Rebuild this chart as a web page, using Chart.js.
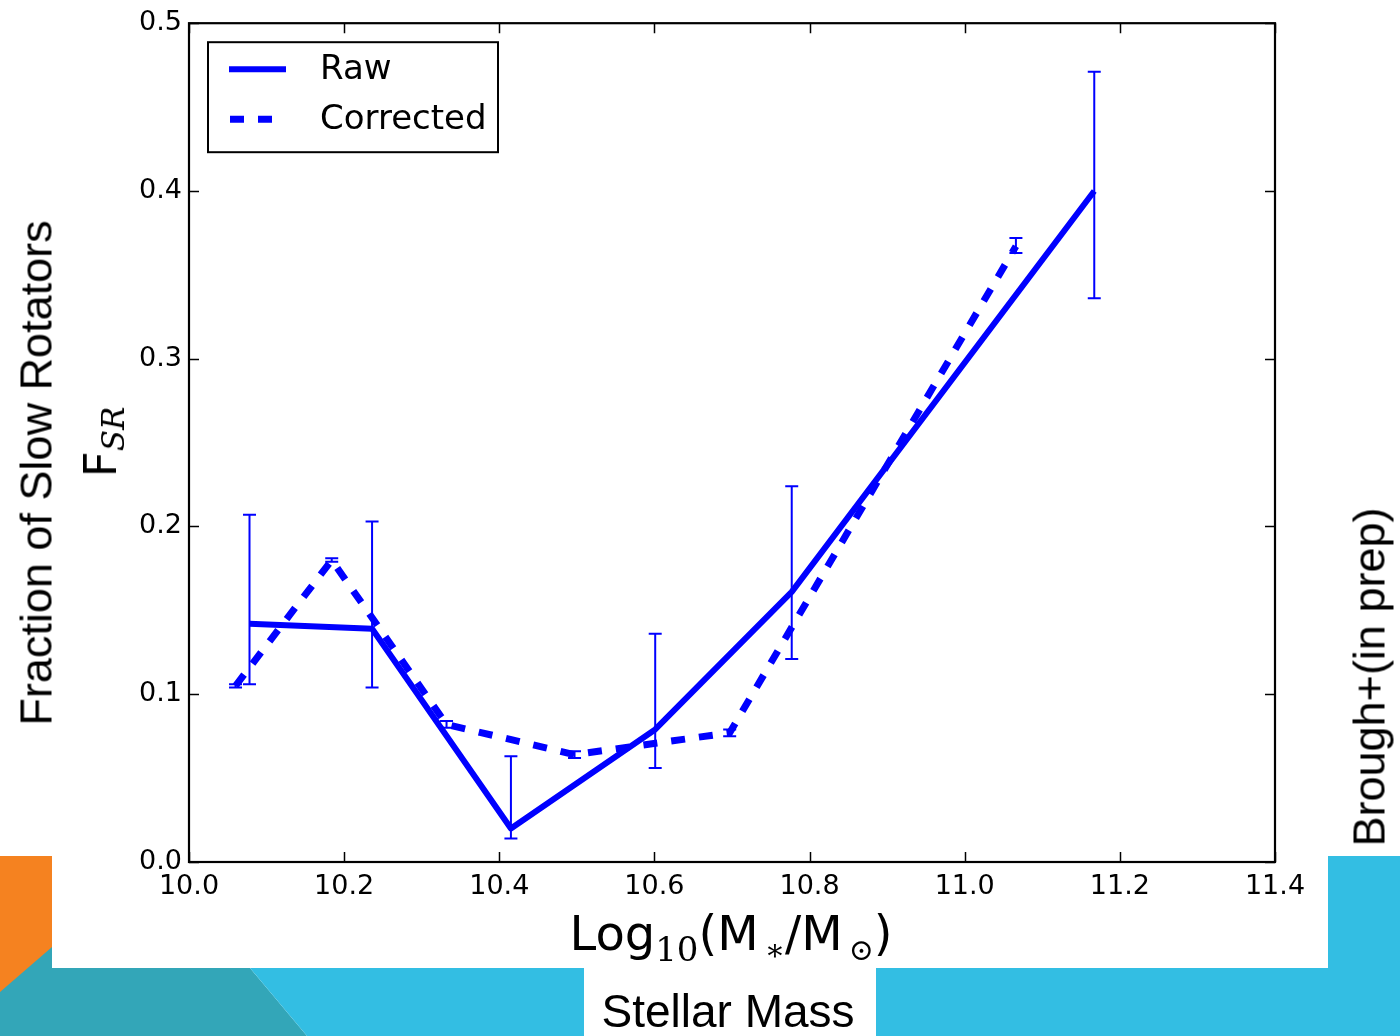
<!DOCTYPE html>
<html><head><meta charset="utf-8">
<script src="https://cdn.jsdelivr.net/npm/chart.js@4.4.0/dist/chart.umd.min.js"></script>
<style>
html,body{margin:0;padding:0;background:#fff;}
#wrap{position:relative;width:1400px;height:1036px;overflow:hidden;background:#fff;}
#bg,#c{position:absolute;left:0;top:0;}
.t{position:absolute;white-space:nowrap;color:#000;}
.rot{transform:translate(-50%,-50%) rotate(-90deg);}
.sub{font-family:"DejaVu Serif";position:relative;}
</style></head><body>
<div id="wrap">
<svg id="bg" width="1400" height="1036">
 <rect x="0" y="856" width="52" height="180" fill="#F58220"/>
 <polygon points="0,992 52,947 52,968 250,968 307,1036 0,1036" fill="#33A6B8"/>
 <polygon points="250,968 584,968 584,1036 307,1036" fill="#33BEE3"/>
 <polygon points="876,968 1328,968 1328,856 1400,856 1400,1036 876,1036" fill="#33BEE3"/>
</svg>
<canvas id="c" width="1400" height="1036"></canvas>
<div class="t rot" style="left:36px;top:473px;font:45px/45px 'Liberation Sans';">Fraction of Slow Rotators</div>
<div class="t rot" style="left:103px;top:442px;font:45px/45px 'DejaVu Sans';">F<span class="sub" style="font-size:31px;font-style:italic;top:8px;">SR</span></div>
<div class="t" style="left:731px;top:909px;transform:translateX(-50%);font:48px/48px 'DejaVu Sans';">Log<span class="sub" style="font-size:34px;top:11px;">10</span>(M<span class="sub" style="font-size:30px;top:10px;margin-left:6px;">∗</span>/M<span class="sub" style="font-size:30px;top:10px;margin-left:6px;">⊙</span>)</div>
<div class="t" style="left:728px;top:988px;transform:translateX(-50%);font:46px/46px 'Liberation Sans';">Stellar Mass</div>
<div class="t rot" style="left:1369px;top:677px;font:45px/45px 'Liberation Sans';">Brough+(in prep)</div>
</div>
<script>
// ---- data ----
const rawX      = [10.078, 10.236, 10.415, 10.601, 10.777, 11.167];
const rawY      = [0.142, 0.139, 0.020, 0.079, 0.161, 0.400];
const rawErrLo  = [0.106, 0.104, 0.014, 0.056, 0.121, 0.336];
const rawErrHi  = [0.207, 0.203, 0.063, 0.136, 0.224, 0.471];

const corrX     = [10.060, 10.184, 10.332, 10.497, 10.697, 11.066];
const corrY     = [0.105, 0.180, 0.082, 0.064, 0.077, 0.367];
const corrErrLo = [0.104, 0.179, 0.080, 0.062, 0.075, 0.363];
const corrErrHi = [0.106, 0.181, 0.084, 0.066, 0.079, 0.372];

const seriesLabels = ['Raw', 'Corrected'];
const xTicks = [10.0, 10.2, 10.4, 10.6, 10.8, 11.0, 11.2, 11.4];
const xTickLabels = ['10.0','10.2','10.4','10.6','10.8','11.0','11.2','11.4'];
const yTicks = [0.0, 0.1, 0.2, 0.3, 0.4, 0.5];
const yTickLabels = ['0.0','0.1','0.2','0.3','0.4','0.5'];

const pts = (xs, ys) => xs.map((x, i) => ({x, y: ys[i]}));

const frameTicks = {
  id: 'frameTicks',
  afterDatasetsDraw(chart) {
    const {ctx, chartArea: a, scales: {x, y}} = chart;
    ctx.save();
    ctx.strokeStyle = '#000';
    ctx.lineWidth = 1.5;
    ctx.beginPath();
    x.ticks.forEach(t => {
      const px = Math.round(x.getPixelForValue(t.value)) + 0.5;
      ctx.moveTo(px, a.bottom); ctx.lineTo(px, a.bottom - 10);
      ctx.moveTo(px, a.top); ctx.lineTo(px, a.top + 10);
    });
    y.ticks.forEach(t => {
      const py = Math.round(y.getPixelForValue(t.value)) + 0.5;
      ctx.moveTo(a.left, py); ctx.lineTo(a.left + 10, py);
      ctx.moveTo(a.right, py); ctx.lineTo(a.right - 10, py);
    });
    ctx.stroke();
    ctx.lineWidth = 2.2;
    ctx.strokeRect(a.left, a.top, a.right - a.left, a.bottom - a.top);
    ctx.restore();
  }
};

const errorBars = {
  id: 'errorBars',
  afterDatasetsDraw(chart) {
    const {ctx, scales: {x, y}} = chart;
    chart.data.datasets.forEach(ds => {
      if (!ds.errLo) return;
      ctx.save();
      ctx.strokeStyle = ds.borderColor;
      ctx.lineWidth = 2;
      ctx.setLineDash([]);
      const cap = 6.5;
      ctx.beginPath();
      ds.data.forEach((p, j) => {
        const px = x.getPixelForValue(p.x);
        const lo = y.getPixelForValue(ds.errLo[j]);
        const hi = y.getPixelForValue(ds.errHi[j]);
        ctx.moveTo(px, lo); ctx.lineTo(px, hi);
        ctx.moveTo(px - cap, lo); ctx.lineTo(px + cap, lo);
        ctx.moveTo(px - cap, hi); ctx.lineTo(px + cap, hi);
      });
      ctx.stroke();
      ctx.restore();
    });
  }
};

const boxLegend = {
  id: 'boxLegend',
  afterDraw(chart) {
    const {ctx, chartArea: a} = chart;
    const bx = a.left + 19, by = a.top + 19, bw = 290, bh = 110;
    ctx.save();
    ctx.fillStyle = '#fff';
    ctx.fillRect(bx, by, bw, bh);
    ctx.strokeStyle = '#000';
    ctx.lineWidth = 2;
    ctx.strokeRect(bx, by, bw, bh);
    chart.data.datasets.forEach((ds, i) => {
      const ly = by + 27 + i * 50;
      ctx.strokeStyle = ds.borderColor;
      ctx.lineWidth = ds.borderWidth;
      ctx.lineCap = 'butt';
      ctx.setLineDash(ds.borderDash || []);
      ctx.beginPath();
      if (ds.borderDash) { ctx.moveTo(bx + 22, ly); ctx.lineTo(bx + 70, ly); }
      else { ctx.moveTo(bx + 21, ly); ctx.lineTo(bx + 78, ly); }
      ctx.stroke();
      ctx.setLineDash([]);
      ctx.fillStyle = '#000';
      ctx.font = '34px "DejaVu Sans"';
      ctx.textBaseline = 'middle';
      ctx.fillText(ds.label, bx + 112, ly + 1);
    });
    ctx.restore();
  }
};

new Chart(document.getElementById('c'), {
  type: 'line',
  data: {
    datasets: [
      {label: seriesLabels[0], data: pts(rawX, rawY), errLo: rawErrLo, errHi: rawErrHi,
       borderColor: '#0000ff', borderWidth: 6, pointRadius: 0, tension: 0, borderJoinStyle: 'round', fill: false},
      {label: seriesLabels[1], data: pts(corrX, corrY), errLo: corrErrLo, errHi: corrErrHi,
       borderColor: '#0000ff', borderWidth: 7, borderDash: [14, 14], pointRadius: 0, tension: 0, borderJoinStyle: 'miter', fill: false}
    ]
  },
  options: {
    responsive: false, animation: false, devicePixelRatio: 1,
    layout: {padding: {left: 0, top: 22, right: 125, bottom: 0}},
    plugins: {legend: {display: false}, tooltip: {enabled: false}},
    scales: {
      x: {
        type: 'linear', min: xTicks[0], max: xTicks[xTicks.length - 1],
        afterBuildTicks(s) { s.ticks = xTicks.map(v => ({value: v})); },
        afterFit(s) { s.height = 174; },
        ticks: {callback: (v) => xTickLabels[xTicks.indexOf(v)], color: '#000', font: {family: 'DejaVu Sans', size: 27}, padding: 9, maxRotation: 0, autoSkip: false},
        grid: {display: false, drawTicks: false}, border: {display: false}
      },
      y: {
        type: 'linear', min: yTicks[0], max: yTicks[yTicks.length - 1],
        afterBuildTicks(s) { s.ticks = yTicks.map(v => ({value: v})); },
        afterFit(s) { s.width = 189; },
        ticks: {callback: (v) => yTickLabels[yTicks.indexOf(v)], color: '#000', font: {family: 'DejaVu Sans', size: 27}, padding: 7, autoSkip: false},
        grid: {display: false, drawTicks: false}, border: {display: false}
      }
    }
  },
  plugins: [frameTicks, errorBars, boxLegend]
});
</script>
</body></html>
